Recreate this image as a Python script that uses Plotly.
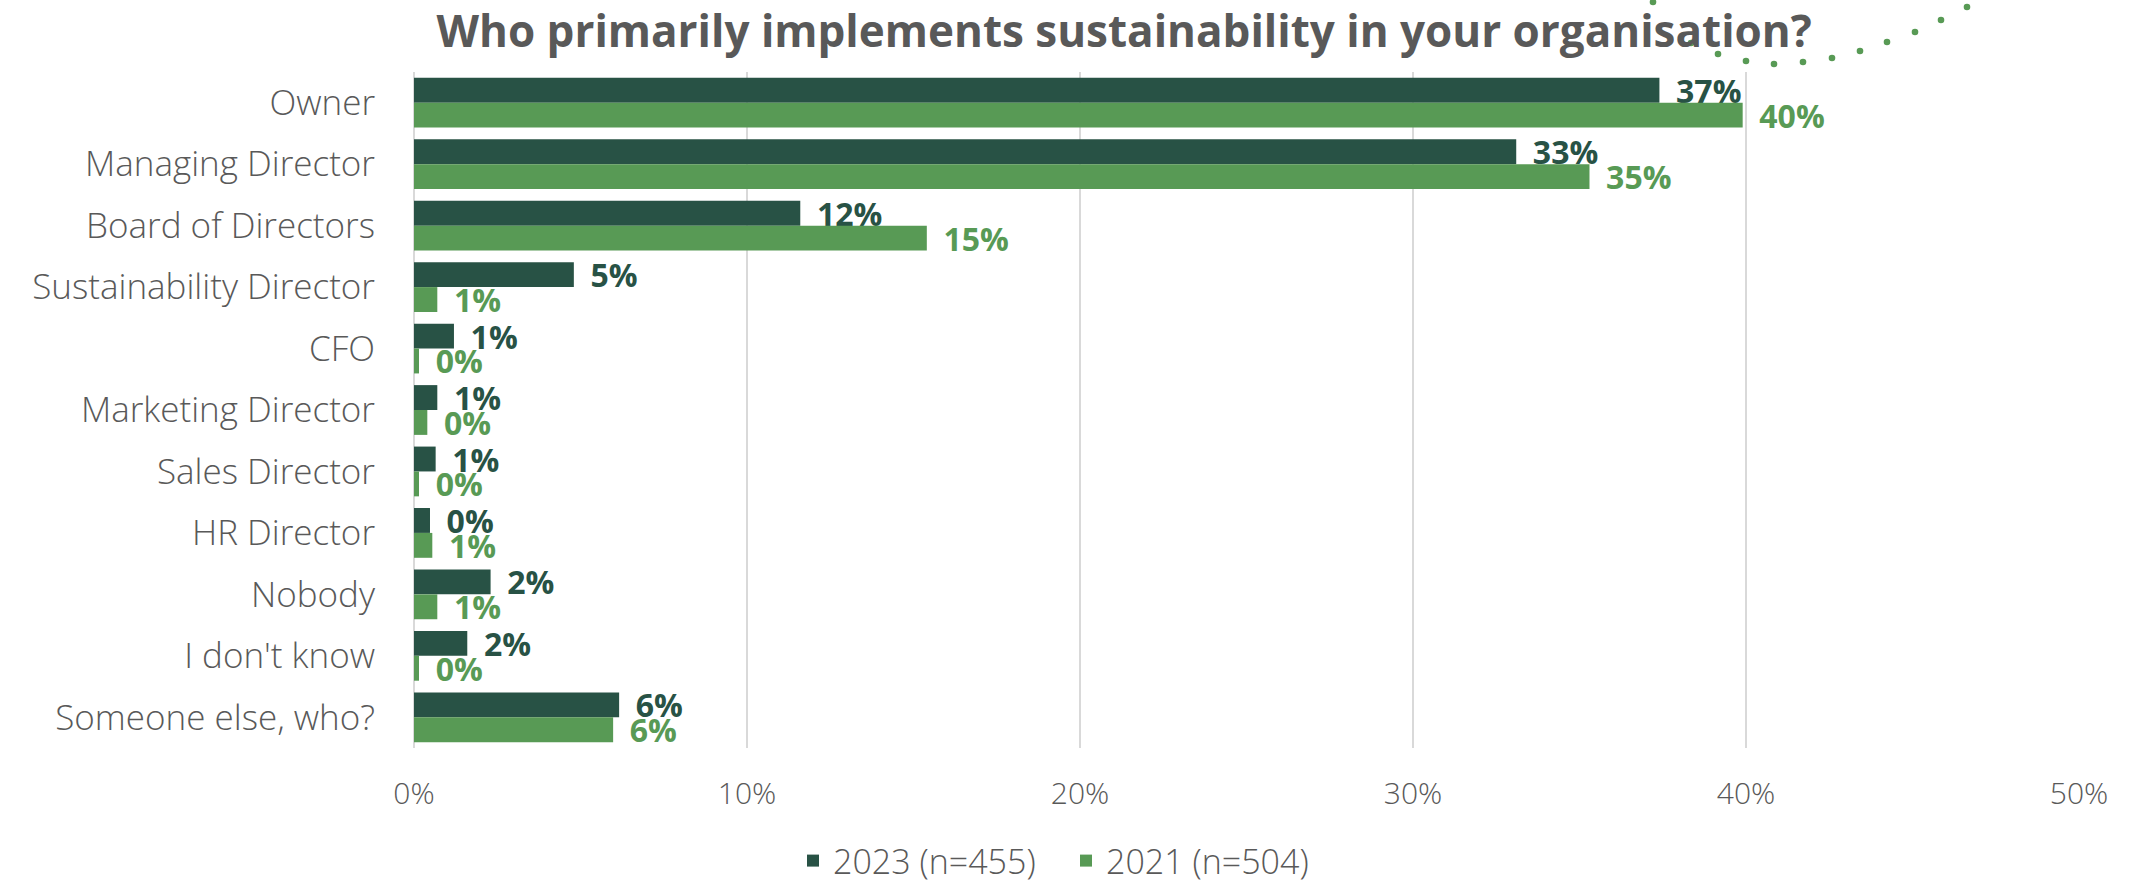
import plotly.graph_objects as go

categories = ["Owner", "Managing Director", "Board of Directors", "Sustainability Director",
              "CFO", "Marketing Director", "Sales Director", "HR Director", "Nobody",
              "I don't know", "Someone else, who?"]
values_2023 = [0.374, 0.331, 0.116, 0.048, 0.012, 0.007, 0.0065, 0.0048, 0.023, 0.016, 0.0616]
values_2021 = [0.399, 0.353, 0.154, 0.007, 0.0015, 0.004, 0.0015, 0.0055, 0.007, 0.0015, 0.0598]
series_names = ["2023 (n=455)", "2021 (n=504)"]
x_ticks = [0, 0.1, 0.2, 0.3, 0.4, 0.5]

# decorative dotted arc (pixel positions of the slide ornament)
decor_dots_px = [(1653, 2), (1691, 43), (1718, 54), (1746, 61), (1774, 64), (1803, 62),
                 (1832, 58), (1860, 51), (1887, 42), (1915, 32), (1941, 20), (1967, 7)]

DARK = "#285245"
LIGHT = "#589A55"
GREY = "#595959"
FONT = "Open Sans"

W, H = 2133, 885
ML, MR, MT, MB = 414, 54, 72, 137
PW, PH = W - ML - MR, H - MT - MB

fig = go.Figure()
for name, vals, col in [(series_names[0], values_2023, DARK), (series_names[1], values_2021, LIGHT)]:
    fig.add_trace(go.Bar(
        y=categories, x=vals, name=name, orientation="h",
        marker=dict(color=col, line=dict(width=0)),
        texttemplate=" \u2009%{x:.0%}", textposition="outside",
        textfont=dict(family=FONT, size=32, color=col, weight=700),
        constraintext="none", cliponaxis=False,
    ))

shapes = []
for px, py in decor_dots_px:
    cx = (px - ML) / PW
    cy = (H - MB - py) / PH
    rx = 3.3 / PW
    ry = 3.3 / PH
    shapes.append(dict(type="circle", xref="paper", yref="paper",
                       x0=cx - rx, x1=cx + rx, y0=cy - ry, y1=cy + ry,
                       fillcolor=LIGHT, line=dict(width=0), layer="below"))

fig.update_layout(
    width=W, height=H,
    margin=dict(l=ML, r=MR, t=MT, b=MB, autoexpand=False),
    paper_bgcolor="white", plot_bgcolor="white",
    barmode="group", bargap=0.19, bargroupgap=0,
    title=dict(text="Who primarily implements sustainability in your organisation?",
               font=dict(family=FONT, size=44, color=GREY, weight=700),
               xref="container", x=0.527, xanchor="center",
               yref="container", y=1 - 32 / H, yanchor="middle"),
    xaxis=dict(range=[0, 0.5], tickvals=x_ticks, tickformat=".0%",
               showgrid=True, gridcolor="#D9D9D9", gridwidth=1.5,
               zeroline=True, zerolinecolor="#D9D9D9", zerolinewidth=1.5,
               showline=False, ticks="", ticklabelstandoff=25,
               tickfont=dict(family=FONT, size=30, color=GREY, weight=300)),
    yaxis=dict(autorange="reversed", showgrid=False, showline=False, ticks="",
               ticklabelstandoff=38,
               tickfont=dict(family=FONT, size=35, color=GREY, weight=300)),
    legend=dict(orientation="h", x=(1066 - ML) / PW, xanchor="center",
                y=(H - MB - 861) / PH, yanchor="middle",
                font=dict(family=FONT, size=34, color=GREY, weight=300),
                traceorder="normal", entrywidth=228, entrywidthmode="pixels"),
    shapes=shapes,
)

fig.write_html("out.html")
